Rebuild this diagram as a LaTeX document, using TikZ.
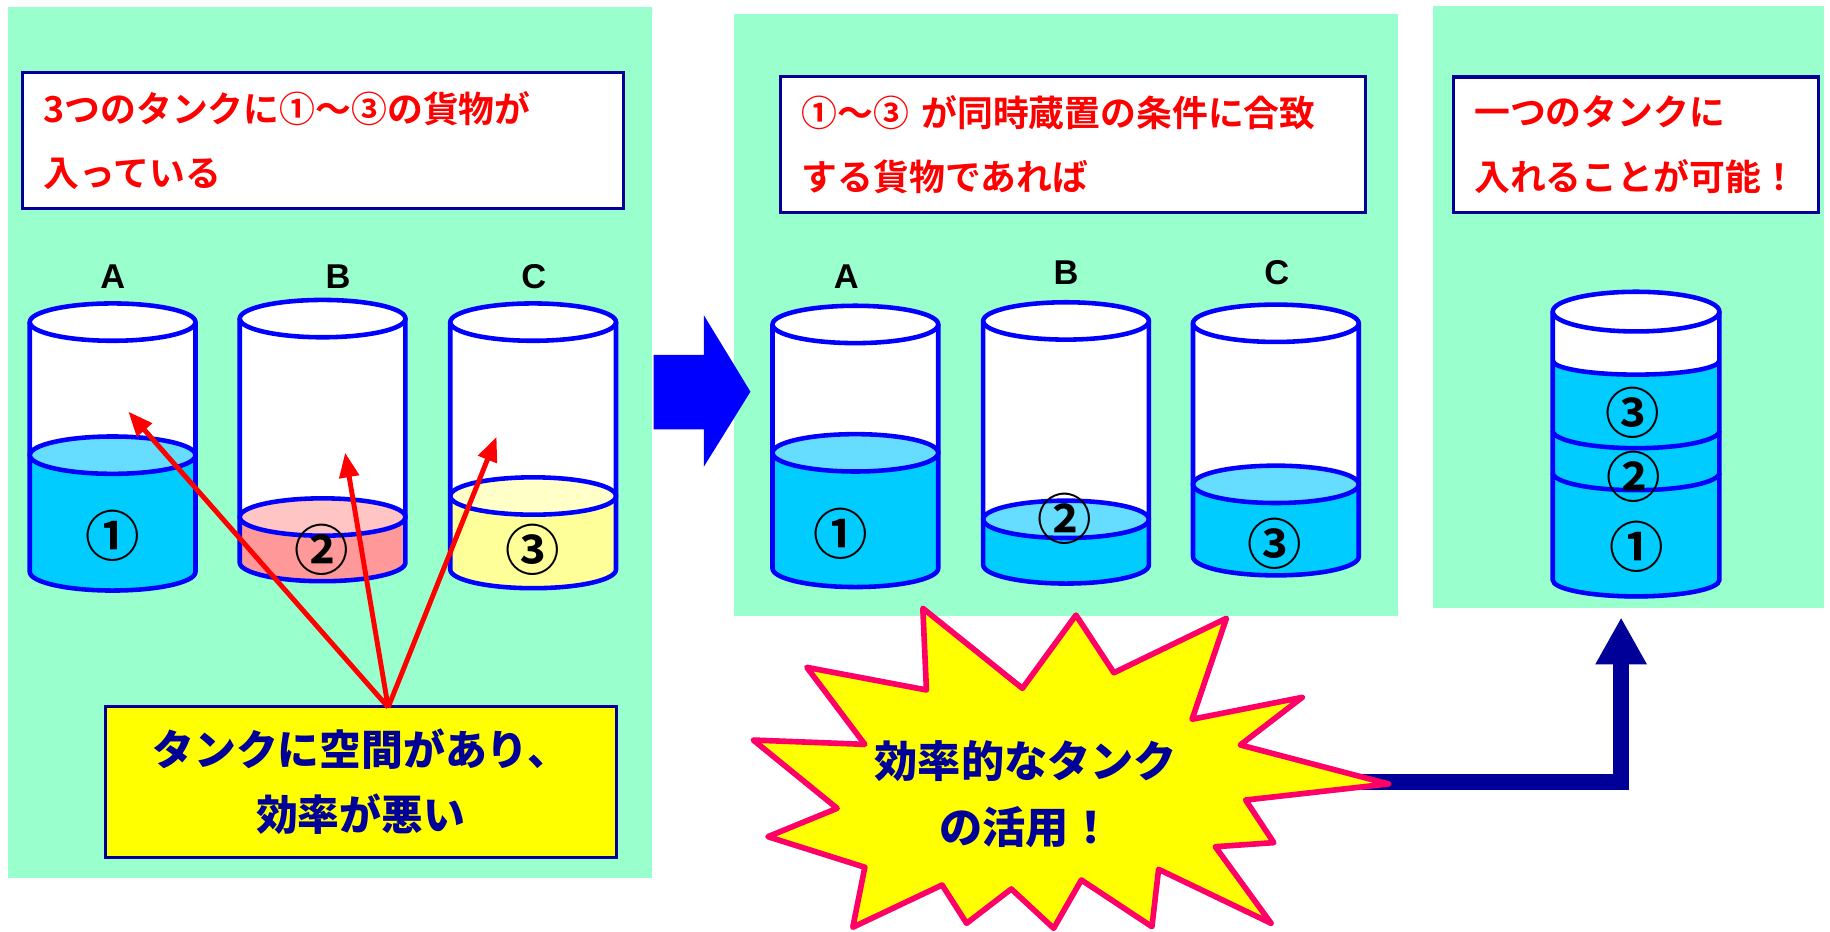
\documentclass[tikz,border=0pt]{standalone}
\usepackage{fontspec}
\usetikzlibrary{arrows.meta}
\setmainfont{Liberation Sans}
\newfontfamily\jp{Noto Sans CJK JP}
\newfontfamily\jpbold{Noto Sans CJK JP Bold}
\newfontfamily\jpblack{Noto Sans CJK JP Black}

\definecolor{mint}{HTML}{99FFCC}
\definecolor{navy}{HTML}{000099}
\definecolor{tankline}{HTML}{0000FF}
\definecolor{aqua}{HTML}{00CCFF}
\definecolor{aquatop}{HTML}{66DDFF}
\definecolor{rose}{HTML}{FF9999}
\definecolor{rosetop}{HTML}{FFC4C4}
\definecolor{cream}{HTML}{FFFF99}
\definecolor{creamtop}{HTML}{FFFFC8}
\definecolor{burstedge}{HTML}{FF0066}
\definecolor{signyellow}{HTML}{FFFF00}

\tikzset{
  panel/.style={fill=mint, draw=none},
  tankedge/.style={draw=tankline, line width=1.3pt},
  msgbox/.style={draw=navy, line width=0.9pt, fill=white, inner xsep=6pt, inner ysep=0pt,
    text=red, align=left, minimum height=38.5pt,
    font={\jpbold\fontsize{10.2pt}{18.3pt}\selectfont}},
  tanklabel/.style={inner sep=0pt, font={\bfseries\fontsize{9.8pt}{12pt}\selectfont}},
  cargo/.style={inner sep=0pt, font={\jpbold\fontsize{15.5pt}{17pt}\selectfont}},
  redarrow/.style={draw=red, line width=1.4pt, -{Triangle[length=7pt,width=5.5pt]}},
  warnbox/.style={draw=navy, line width=0.9pt, fill=signyellow, text=navy, align=center,
    minimum width=145.4pt, minimum height=42.8pt, inner sep=0pt,
    font={\jpblack\fontsize{11.9pt}{18.4pt}\selectfont}},
  bursttext/.style={text=navy, align=center, inner sep=0pt,
    font={\jpblack\fontsize{12.3pt}{18.7pt}\selectfont}},
  elbow/.style={draw=navy, line width=4.6pt, line join=miter,
    -{Triangle[length=13.4pt,width=13.7pt]}},
}

% tank: #1 centre x, #2 rim y, #3 liquid level y, #4 floor y, #5 liquid, #6 liquid surface
\newcommand\tank[6]{%
  \fill[white] (#1-71,#2) rectangle (#1+71,#4);
  \fill[#5] (#1-71,#3) rectangle (#1+71,#4);
  \fill[#5] (#1,#4) ellipse[x radius=71, y radius=16];
  \draw[tankedge, fill=#6] (#1,#3) ellipse[x radius=71, y radius=16];
  \draw[tankedge, fill=white] (#1,#2) ellipse[x radius=71, y radius=16];
  \draw[tankedge] (#1-71,#2) -- (#1-71,#4)
    arc[start angle=180, end angle=0, x radius=71, y radius=16] -- (#1+71,#2);
}

\begin{document}
\begin{tikzpicture}[x=0.011671cm, y=-0.011671cm]
\useasboundingbox (0,0) rectangle (1568,798);
\fill[white] (0,0) rectangle (1568,798);

% three panels
\fill[panel] (7.2,5.7) rectangle (558.8,752.6);
\fill[panel] (629.2,12) rectangle (1197.6,527.5);
\fill[panel] (1227.6,5.1) rectangle (1563,520.7);

% captions
\node[msgbox, minimum width=171pt, text width=159pt] (cap1) at (276.6,120.4)
  {3つのタンクに①～③の貨物が\\入っている};
\node[msgbox, minimum width=166.4pt, text width=154.4pt] (cap2) at (919.5,123.8)
  {①～③ が同時蔵置の条件に合致\\する貨物であれば};
\node[msgbox, minimum width=102.8pt, text width=92pt] (cap3) at (1401.7,124)
  {一つのタンクに\\入れることが可能！};

% left panel: three part-filled tanks
\node[tanklabel] (la) at (96.6,237) {A};
\node[tanklabel] (lb) at (289.6,237) {B};
\node[tanklabel] (lc) at (457.3,237) {C};
\tank{96.5}{276}{390}{490}{aqua}{aquatop}
\tank{276.4}{273}{443}{482}{rose}{rosetop}
\tank{456.8}{276}{425}{488}{cream}{creamtop}
\node[cargo] (l1) at (96.6,459) {①};
\node[cargo] (l2) at (275.9,471.3) {②};
\node[cargo] (l3) at (456.2,471.3) {③};

% middle panel: same tanks, compatible cargo
\node[tanklabel] (ma) at (725.2,237) {A};
\node[tanklabel] (mb) at (913.4,234) {B};
\node[tanklabel] (mc) at (1093.9,234) {C};
\tank{732.9}{278}{388}{487}{aqua}{aquatop}
\tank{913.4}{275}{445}{484}{aqua}{aquatop}
\tank{1093.2}{277}{415}{477}{aqua}{aquatop}
\node[cargo] (m1) at (720.2,457) {①};
\node[cargo] (m2) at (912.6,444.1) {②};
\node[cargo] (m3) at (1092.4,466.1) {③};

% right panel: one tank holding all three
\fill[aqua] (1330.4,267) rectangle (1473.2,497);
\fill[aqua] (1401.8,497) ellipse[x radius=71.4, y radius=16];
\fill[white] (1330.4,267) rectangle (1473.2,309);
\fill[white] (1401.8,309) ellipse[x radius=71.4, y radius=12];
\draw[tankedge] (1330.4,309) arc[start angle=180, end angle=0, x radius=71.4, y radius=12];
\draw[tankedge] (1330.4,369) arc[start angle=180, end angle=0, x radius=71.4, y radius=15];
\draw[tankedge] (1330.4,405) arc[start angle=180, end angle=0, x radius=71.4, y radius=15];
\draw[tankedge, fill=white] (1401.8,267) ellipse[x radius=71.4, y radius=17];
\draw[tankedge] (1330.4,267) -- (1330.4,497)
  arc[start angle=180, end angle=0, x radius=71.4, y radius=14] -- (1473.2,267);
\node[cargo] (r3) at (1399,353.3) {③};
\node[cargo] (r2) at (1399.5,408.4) {②};
\node[cargo] (r1) at (1402.4,468.4) {①};

% wasted space callout
\node[warnbox] (waste) at (309,670) {タンクに空間があり、\\効率が悪い};
\coordinate (apex) at (332.6,606);
\coordinate (gapA) at (110,352.7);
\coordinate (gapB) at (295.7,387.9);
\coordinate (gapC) at (425.5,374.2);
\draw[redarrow] (apex) -- (gapA);
\draw[redarrow] (apex) -- (gapB);
\draw[redarrow] (apex) -- (gapC);

% block arrow between the first two panels
\fill[tankline] (560,304) -- (603,304) -- (603,270) -- (643,335.6) -- (603,400)
  -- (603,368) -- (560,368) -- cycle;

% elbow arrow from the burst up to the single tank
\coordinate (bursttip) at (1120,670.3);
\coordinate (corner) at (1389,670.3);
\coordinate (stackfoot) at (1389,529);
\draw[elbow] (bursttip) -- (corner) -- (stackfoot);

% burst
\filldraw[fill=signyellow, draw=burstedge, line width=1.6pt, line join=round]
  (790.7,521.2) -- (876.0,589.8) -- (921.9,527.0) -- (954.4,576.4) -- (1050.8,529.8)
  -- (1021.4,616.3) -- (1115.8,597.5) -- (1062.7,638.3) -- (1189.7,671.7)
  -- (1067.3,685.5) -- (1091.4,722.0) -- (1041.3,725.5) -- (1089.1,791.1)
  -- (992.7,744.9) -- (987.0,794.0) -- (926.5,754.0) -- (902.8,795.4)
  -- (866.5,761.7) -- (828.2,791.1) -- (807.2,758.3) -- (730.7,794.5)
  -- (741.0,743.1) -- (658.0,716.9) -- (717.3,692.6) -- (645.4,634.1)
  -- (741.0,637.8) -- (691.3,571.8) -- (793.8,591.2) -- cycle;
\node[bursttext] (burst) at (879,680.7) {効率的なタンク\\の活用！};

\end{tikzpicture}
\end{document}
